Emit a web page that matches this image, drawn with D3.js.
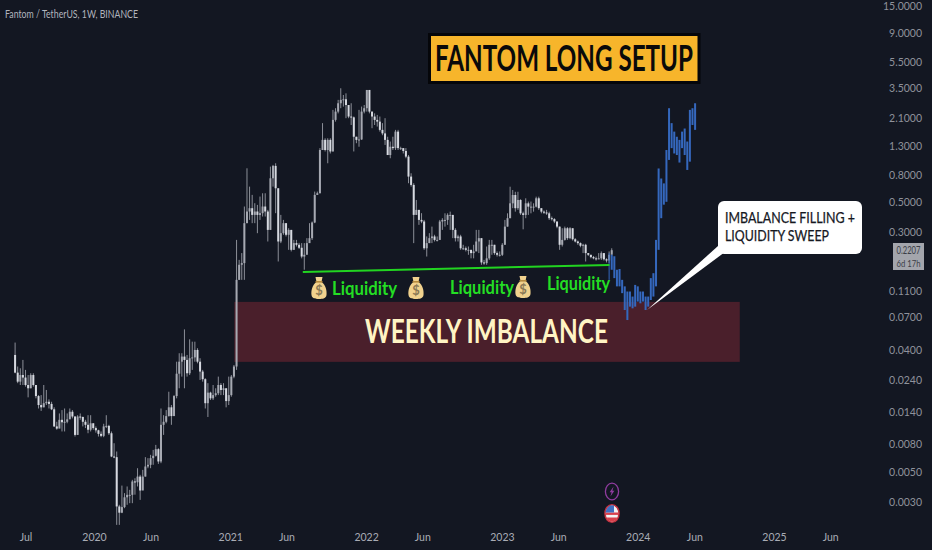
<!DOCTYPE html>
<html><head><meta charset="utf-8">
<script src="https://cdn.jsdelivr.net/npm/d3@7/dist/d3.min.js"></script>
<style>html,body{margin:0;padding:0;background:#131722;overflow:hidden}svg{display:block}</style>
</head><body><div id="chart"></div>
<script>
const firstOpen = 0.0369;
const closes = [.0273,.0234,.0262,.0251,.0221,.0209,.0262,.0221,.0183,.0157,.0151,.0162,.0166,.0160,.0146,.0109,.0105,.0122,.0117,.0118,.0123,.0140,.0129,.00943,.0129,.0128,.0118,.0112,.0103,.0115,.0106,.0102,.00960,.00928,.0109,.0110,.0097,.00652,.00645,.00278,.00250,.00275,.00325,.00339,.00339,.00426,.00420,.00463,.00365,.00463,.00550,.00566,.00634,.00660,.00739,.00599,.0112,.0118,.0130,.0151,.0130,.0183,.0268,.0329,.0359,.0339,.0270,.0349,.0354,.0402,.0329,.0278,.0244,.0162,.0194,.0176,.0186,.0192,.0221,.0203,.0209,.0168,.0186,.0255,.0303,
.133,.172,.177,.350,.427,.452,.403,.427,.403,.415,.465,.427,.312,.753,.930,.635,.256,.295,.350,.287,.312,.222,.249,.242,.230,.198,.204,.249,.271,.354,.567,.583,1.22,1.45,1.22,1.45,1.19,2.04,2.35,2.71,2.87,2.90,2.63,2.16,2.13,1.53,1.45,1.46,2.35,2.49,3.40,2.35,2.16,2.04,1.98,1.72,1.62,1.45,1.12,1.29,1.26,1.67,1.26,1.26,1.20,1.09,.775,.672,.403,.439,.370,.360,.228,.249,.271,.279,.263,.263,
.360,.370,.370,.403,.403,.312,.271,.279,.228,.228,.222,.222,.210,.216,.256,.271,.179,.177,.192,.242,.242,.210,.204,.204,.242,.330,.381,.491,.566,.452,.520,.414,.403,.491,.464,.464,.464,.535,.452,.426,.420,.414,.381,.375,.360,.330,.242,.263,.321,.271,.321,.266,.256,.249,.238,.242,.210,.204,.196,.192,.189,.192,.210,.189,.185,.204,.2207];
const highs = [.0456,.0303,.0294,.0339,.0286,.0262,.0270,.0270,.0221,.0186,.0186,.0221,.0203,.0173,.0166,.0151,.0118,.0136,.0144,.0148,.0136,.0148,.0144,.0130,.0132,.0136,.0129,.0122,.0132,.0132,.0115,.0109,.0103,.0100,.0114,.0132,.0112,.0100,.00818,.00710,.00286,.00397,.00349,.00391,.00369,.00438,.00450,.00534,.00477,.00519,.00645,.00634,.00671,.00730,.00795,.00751,.0148,.0132,.0144,.0197,.0157,.0186,.0329,.0380,.0380,.0571,.0369,.0482,.0463,.0463,.0414,.0349,.0286,.0248,.0228,.0197,.0221,.0209,.0255,.0228,.0228,.0209,.0255,.0262,.0311,
.263,.187,.210,.465,.893,.653,.567,.492,.478,.551,.583,.583,.439,.919,.946,.973,.635,.403,.370,.350,.321,.312,.263,.263,.250,.249,.249,.271,.350,.360,.600,.600,1.26,1.93,1.49,1.49,1.49,2.42,2.49,2.87,3.50,3.12,3.21,2.63,2.71,2.16,1.53,2.42,2.56,2.63,3.40,3.40,2.35,2.28,2.22,2.16,1.93,2.10,1.53,1.41,1.53,1.72,1.72,1.29,1.26,1.26,1.12,.820,.692,.520,.439,.415,.370,.279,.295,.330,.287,.279,
.370,.381,.414,.414,.426,.403,.321,.287,.287,.242,.235,.235,.222,.242,.312,.312,.271,.187,.235,.263,.263,.242,.216,.216,.249,.370,.414,.652,.616,.598,.598,.526,.426,.535,.506,.506,.491,.550,.550,.452,.435,.439,.426,.392,.381,.360,.330,.321,.330,.327,.327,.321,.271,.260,.252,.246,.246,.210,.204,.200,.198,.210,.216,.210,.192,.216,.228];
const lows = [.0270,.0228,.0221,.0221,.0215,.0179,.0209,.0215,.0176,.0148,.0142,.0151,.0157,.0148,.0144,.0108,.0103,.0106,.0100,.0100,.0115,.0125,.0125,.00917,.00943,.0122,.0109,.0106,.0097,.0100,.0103,.0098,.00917,.00907,.00907,.0106,.00943,.00645,.00634,.00203,.00203,.00248,.00270,.00286,.00294,.00294,.00340,.00391,.00311,.00369,.00463,.00534,.00534,.00566,.00652,.00575,.00582,.00943,.0115,.0129,.0112,.0148,.0176,.0209,.0255,.0209,.0255,.0262,.0286,.0329,.0320,.0241,.0234,.0148,.0128,.0171,.0171,.0181,.0186,.0186,.0186,.0151,.0157,.0181,.0248,
.0286,.133,.133,.133,.350,.370,.350,.350,.295,.370,.392,.392,.256,.312,.653,.415,.182,.249,.287,.279,.222,.216,.222,.235,.225,.192,.158,.210,.263,.263,.350,.567,.583,1.22,1.19,.973,1.15,1.19,1.98,2.28,2.49,2.56,2.10,2.10,1.87,1.19,1.37,1.29,1.45,2.28,2.35,2.28,1.77,1.87,1.82,1.67,1.57,1.33,1.12,1.06,1.22,1.22,1.22,1.22,1.15,1.06,.692,.653,.249,.403,.340,.350,.222,.198,.249,.249,.256,.256,
.263,.312,.330,.340,.312,.271,.256,.256,.222,.222,.216,.204,.192,.192,.222,.210,.172,.172,.172,.187,.204,.204,.198,.198,.200,.242,.330,.381,.452,.426,.439,.403,.315,.381,.403,.414,.426,.458,.439,.414,.410,.403,.370,.366,.350,.321,.222,.235,.260,.263,.266,.260,.252,.242,.232,.210,.182,.200,.192,.189,.185,.189,.187,.185,.179,.177,.208];
const projTops = [.210,.204,.199,.158,.160,.133,.119,.109,.109,.100,.122,.119,.109,.109,.100,.100,.137,.149,.263,.89,.75,.69,1.22,2.49,1.93,1.67,1.53,1.45,1.67,1.76,1.41,2.42,2.49,2.71];
const projBottoms = [.133,.158,.137,.119,.119,.106,.0795,.0670,.0842,.0818,.0842,.0918,.0891,.0918,.0795,.0842,.0943,.100,.119,.222,.381,.48,.504,1.03,1.26,1.15,1.12,.985,1.26,1.12,.868,1.00,1.87,1.72];
const priceTicks = [15,9,5.5,3.5,2.1,1.3,0.8,0.5,0.3,0.11,0.07,0.04,0.024,0.014,0.008,0.005,0.003];
const lastPrice = 0.2207;
const countdown = "6d 17h";
const timeTicks = ["2019-07-01","2020-01-01","2020-06-01","2021-01-01","2021-06-01","2022-01-01","2022-06-01","2023-01-01","2023-06-01","2024-01-01","2024-06-01","2025-01-01","2025-06-01"];
const timeLabels = ["Jul","2020","Jun","2021","Jun","2022","Jun","2023","Jun","2024","Jun","2025","Jun"];
const zoneDates = ["2021-01-12","2024-10-01"];
const zonePrices = [0.0913,0.0328];
const liqDates = ["2021-07-15","2023-10-17"];
const liqPrices = [0.152,0.1715];
const firstWeek = "2019-06-03";

const W=932,H=550, bg="#131722";
const pd=s=>new Date(s+"T00:00:00Z");
const x=d3.scaleUtc().domain([pd("2020-01-01"),pd("2025-01-01")]).range([94,774]);
const y=d3.scaleLog().domain([15,0.003]).range([3,502]);
const weekX=i=>x(d3.utcDay.offset(pd(firstWeek),7*i));
const svg=d3.select("#chart").append("svg").attr("width",W).attr("height",H).attr("viewBox",[0,0,W,H]);
svg.append("rect").attr("width",W).attr("height",H).attr("fill",bg);
const defs=svg.append("defs");
defs.append("filter").attr("id","soft").attr("x","-2%").attr("y","-2%").attr("width","104%").attr("height","104%")
 .append("feGaussianBlur").attr("stdDeviation",0.35);
defs.append("clipPath").attr("id","flagClip").append("ellipse").attr("rx",6.4).attr("ry",8.2);

// imbalance zone
svg.append("rect").attr("x",x(pd(zoneDates[0]))).attr("width",x(pd(zoneDates[1]))-x(pd(zoneDates[0])))
 .attr("y",y(zonePrices[0])).attr("height",y(zonePrices[1])-y(zonePrices[0])).attr("fill","#4a1f2b");

// candles
const candles=closes.map((c,i)=>({i,o:i?closes[i-1]:firstOpen,c,h:highs[i],l:lows[i]}));
const g=svg.append("g").attr("filter","url(#soft)");
g.selectAll("line.w").data(candles).join("line").attr("class","w")
 .attr("x1",d=>weekX(d.i)).attr("x2",d=>weekX(d.i)).attr("y1",d=>y(d.h)).attr("y2",d=>y(d.l))
 .attr("stroke","#8b8e97").attr("stroke-width",1);
g.selectAll("rect.b").data(candles).join("rect").attr("class","b")
 .attr("x",d=>weekX(d.i)-1).attr("width",2)
 .attr("y",d=>y(Math.max(d.o,d.c))).attr("height",d=>Math.max(1,Math.abs(y(d.o)-y(d.c))))
 .attr("fill",d=>d.c>=d.o?"#a6a9b2":"#d6d9e0");

// projected bars
const pStart=closes.length-2;
svg.append("g").attr("filter","url(#soft)").selectAll("rect").data(projTops).join("rect")
 .attr("x",(d,i)=>weekX(pStart+i)-(i?1:.5)).attr("width",(d,i)=>i?2:1)
 .attr("y",d=>y(d)).attr("height",(d,i)=>y(projBottoms[i])-y(d)).attr("fill","#3467bd");

// liquidity line
svg.append("line").attr("x1",x(pd(liqDates[0]))).attr("x2",x(pd(liqDates[1])))
 .attr("y1",y(liqPrices[0])).attr("y2",y(liqPrices[1])).attr("stroke","#22d421").attr("stroke-width",2);

// axes
const yAxis=svg.append("g").attr("transform","translate(895,0)")
 .call(d3.axisRight(y).tickValues(priceTicks).tickSize(0).tickFormat(d3.format(".4f")));
yAxis.select(".domain").remove();
yAxis.selectAll("text").attr("x",27).attr("text-anchor","end").attr("fill","#8f929b")
 .attr("font-family","Lato, sans-serif").attr("font-size",10.5);
yAxis.selectAll("text").filter((d,i)=>i===0).attr("transform","translate(0,3)");
const xAxis=svg.append("g").attr("transform","translate(0,530)")
 .call(d3.axisBottom(x).tickValues(timeTicks.map(pd)).tickSize(0).tickFormat((d,i)=>timeLabels[i]));
xAxis.select(".domain").remove();
xAxis.selectAll("text").attr("y",4).attr("fill","#a9acb5").attr("font-family","Lato, sans-serif").attr("font-size",10.5);

// header
svg.append("text").attr("x",5).attr("y",18).attr("fill","#b2b5be").attr("font-family","Lato, sans-serif")
 .attr("font-size",11).attr("textLength",133).attr("lengthAdjust","spacingAndGlyphs").text("Fantom / TetherUS, 1W, BINANCE");

// price tag
function tagBase(row){return y(lastPrice)+4+row*13;}
svg.append("rect").attr("x",893).attr("y",243).attr("width",31).attr("height",27).attr("fill","#a3a5ac");
svg.append("text").attr("x",896.5).attr("y",tagBase(0)).attr("fill","#3c3f48")
 .attr("font-family","Lato, sans-serif").attr("font-size",10.5).attr("textLength",24).attr("lengthAdjust","spacingAndGlyphs").text(d3.format(".4f")(lastPrice));
svg.append("text").attr("x",896.5).attr("y",tagBase(1)).attr("fill","#3c3f48")
 .attr("font-family","Lato, sans-serif").attr("font-size",10).attr("textLength",24).attr("lengthAdjust","spacingAndGlyphs").text(countdown);

// title
svg.append("rect").attr("x",429.5).attr("y",34.5).attr("width",269.5).attr("height",48).attr("fill","#f7b52b").attr("stroke","#05060a").attr("stroke-width",3);
svg.append("text").attr("x",435).attr("y",70.5).attr("fill","#0a0a0a").attr("font-family","Lato, sans-serif").attr("font-weight",700)
 .attr("font-size",36).attr("textLength",258).attr("lengthAdjust","spacingAndGlyphs").text("FANTOM LONG SETUP");

// zone label
svg.append("text").attr("x",365).attr("y",343).attr("fill","#fff4c4").attr("font-family","Lato, sans-serif").attr("font-weight",700)
 .attr("font-size",32).attr("textLength",243).attr("lengthAdjust","spacingAndGlyphs").text("WEEKLY IMBALANCE");

// liquidity labels
[[332,295,65],[450,294,64],[547,290,63]].forEach(([lx,ly,lw])=>{
 svg.append("text").attr("x",lx).attr("y",ly).attr("fill","#24de24").attr("font-family","Lato, sans-serif").attr("font-weight",700)
  .attr("font-size",18).attr("textLength",lw).attr("lengthAdjust","spacingAndGlyphs").text("Liquidity");
});
function bag(cx,cy){
 const b=svg.append("g").attr("transform",`translate(${cx},${cy})`);
 b.append("path").attr("d","M-3.5,-11 L3.5,-11 L2.5,-6 C7,-3 8,3 7.5,7 C7,10.5 4,11 0,11 C-4,11 -7,10.5 -7.5,7 C-8,3 -7,-3 -2.5,-6 Z").attr("fill","#f1d28e");
 b.append("rect").attr("x",-3.5).attr("y",-7).attr("width",7).attr("height",1.6).attr("fill","#b58a3e");
 b.append("text").attr("y",7).attr("text-anchor","middle").attr("fill","#8c7a56").attr("font-family","Lato, sans-serif").attr("font-weight",700).attr("font-size",13).text("$");
}
bag(319,288);bag(416,288);bag(523,287);

// callout
svg.append("path").attr("d","M718,246 L647,310 L725,252 Z").attr("fill","#fff");
svg.append("rect").attr("x",718).attr("y",201).attr("width",144).attr("height",53).attr("rx",6).attr("fill","#fff");
svg.append("text").attr("x",725).attr("y",223).attr("fill","#16181f").attr("stroke","#16181f").attr("stroke-width",.25).attr("font-family","Lato, sans-serif").attr("font-size",15)
 .attr("textLength",130).attr("lengthAdjust","spacingAndGlyphs").text("IMBALANCE FILLING +");
svg.append("text").attr("x",725).attr("y",241).attr("fill","#16181f").attr("stroke","#16181f").attr("stroke-width",.25).attr("font-family","Lato, sans-serif").attr("font-size",15)
 .attr("textLength",104).attr("lengthAdjust","spacingAndGlyphs").text("LIQUIDITY SWEEP");

// event icons
const ic1=svg.append("g").attr("transform","translate(612,491.5)");
ic1.append("ellipse").attr("rx",6.6).attr("ry",8.3).attr("fill",bg).attr("stroke","#8f3c9e").attr("stroke-width",1.3);
ic1.append("path").attr("d","M1.6,-5 L-2.4,.8 L-.4,.8 L-1.6,5 L2.4,-.8 L.4,-.8 Z").attr("fill","#8f3c9e");
const ic2=svg.append("g").attr("transform","translate(612,513.5)");
ic2.append("ellipse").attr("rx",7).attr("ry",8.8).attr("fill","#f3f3f3").attr("stroke","#c2313f").attr("stroke-width",1.6);
const fl=ic2.append("g").attr("clip-path","url(#flagClip)");
fl.append("rect").attr("x",-7).attr("y",-1).attr("width",14).attr("height",2.4).attr("fill","#d9404c");
fl.append("rect").attr("x",-7).attr("y",4).attr("width",14).attr("height",5).attr("fill","#d9404c");
fl.append("rect").attr("x",-7).attr("y",-9).attr("width",9).attr("height",8).attr("fill","#3f6fc0");
</script></body></html>
